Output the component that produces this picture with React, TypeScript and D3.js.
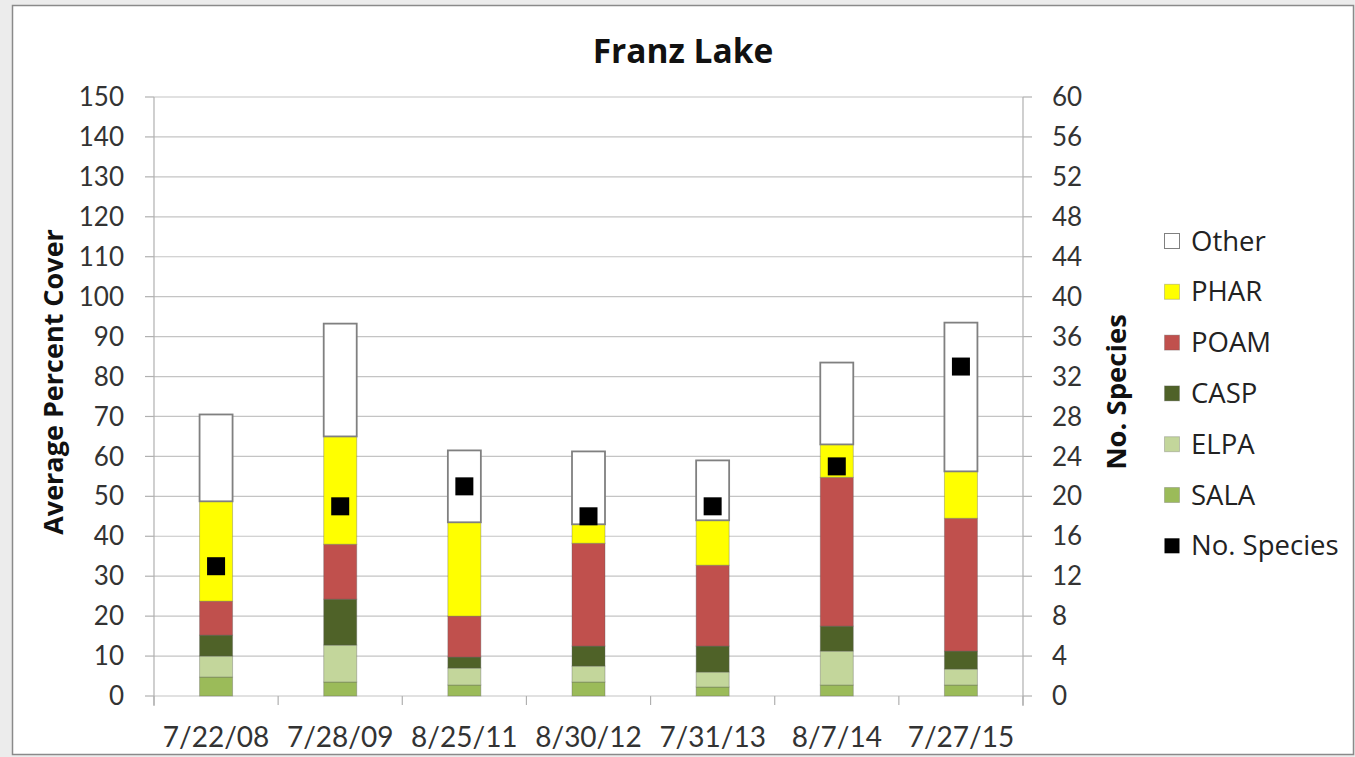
import React from "react";
import * as d3 from "d3";

const categories = ["7/22/08", "7/28/09", "8/25/11", "8/30/12", "7/31/13", "8/7/14", "7/27/15"];
const SALA = [4.75, 3.5, 2.75, 3.5, 2.25, 2.75, 2.75];
const ELPA = [5.25, 9.25, 4.25, 4, 3.75, 8.5, 4];
const CASP = [5.25, 11.5, 2.75, 5, 6.5, 6.25, 4.5];
const POAM = [8.5, 13.75, 10.25, 25.75, 20.25, 37.25, 33.25];
const PHAR = [25, 27, 23.5, 4.75, 11.25, 8.25, 11.75];
const Other = [21.75, 28.25, 18, 18.25, 15, 20.5, 37.25];
const noSpecies = [13, 19, 21, 18, 19, 23, 33];

const leftTicks = d3.range(0, 151, 10);
const rightTicks = d3.range(0, 61, 4);

const seriesKeys = ["SALA", "ELPA", "CASP", "POAM", "PHAR", "Other"];
const seriesData: Record<string, number[]> = { SALA, ELPA, CASP, POAM, PHAR, Other };
const colors: Record<string, string> = {
  SALA: "#9BBB59",
  ELPA: "#C3D69B",
  CASP: "#4F6228",
  POAM: "#C0504D",
  PHAR: "#FFFF00",
  Other: "#FFFFFF",
};
const legendOrder = ["Other", "PHAR", "POAM", "CASP", "ELPA", "SALA"];

const FONT = "'Open Sans', Lato, sans-serif";
const NUMFONT = "Lato, 'Open Sans', sans-serif";

export default function App() {
  const W = 1355, H = 757;
  const left = 154, right = 1023, top = 97, bottom = 696;
  const x = d3.scaleBand<string>().domain(categories).range([left, right]).padding(0);
  const y = d3.scaleLinear().domain([0, 150]).range([bottom, top]);
  const y2 = d3.scaleLinear().domain([0, 60]).range([bottom, top]);
  const barW = 33;

  const table = categories.map((c, i) => {
    const row: any = { cat: c };
    seriesKeys.forEach((k) => (row[k] = seriesData[k][i]));
    return row;
  });
  const stacked = d3.stack<any>().keys(seriesKeys)(table);

  const boundaries = categories.map((c) => x(c)!).concat([right]);

  return (
    <svg width={W} height={H} style={{ position: "absolute", left: 0, top: 0 }} fontFamily={FONT}>
      <rect x={0} y={0} width={W} height={H} fill="#ececec" />
      <rect x={12.5} y={5.5} width={1341} height={749} fill="#ffffff" stroke="#8a8a8a" strokeWidth={1.5} />
      <text x={683} y={63} textAnchor="middle" fontSize={33.5} fontWeight="bold" fill="#111">Franz Lake</text>

      {leftTicks.map((t) => (
        <line key={"g" + t} x1={left} x2={right} y1={y(t)} y2={y(t)} stroke="#c4c4c4" strokeWidth={1.2} />
      ))}
      <line x1={left} x2={left} y1={top} y2={bottom + 10} stroke="#b0b0b0" strokeWidth={1.2} />
      <line x1={right} x2={right} y1={top} y2={bottom + 10} stroke="#b0b0b0" strokeWidth={1.2} />
      {leftTicks.map((t) => (
        <g key={"l" + t}>
          <line x1={left - 9} x2={left} y1={y(t)} y2={y(t)} stroke="#b0b0b0" strokeWidth={1.2} />
          <text x={124} y={y(t)} dy="0.35em" textAnchor="end" fontSize={26} fontFamily={NUMFONT} fill="#333">{t}</text>
        </g>
      ))}
      {rightTicks.map((t) => (
        <g key={"r" + t}>
          <line x1={right} x2={right + 9} y1={y2(t)} y2={y2(t)} stroke="#b0b0b0" strokeWidth={1.2} />
          <text x={1052} y={y2(t)} dy="0.35em" textAnchor="start" fontSize={26} fontFamily={NUMFONT} fill="#333">{t}</text>
        </g>
      ))}
      {boundaries.map((b, i) => (
        <line key={"xb" + i} x1={b} x2={b} y1={bottom} y2={bottom + 9} stroke="#b0b0b0" strokeWidth={1.2} />
      ))}
      {categories.map((c) => (
        <text key={"xl" + c} x={x(c)! + x.bandwidth() / 2} y={747} textAnchor="middle" fontSize={28} fontFamily={NUMFONT} fill="#333">{c}</text>
      ))}

      {stacked.map((s) => (
        <g key={s.key}>
          {s.map((d, i) => (
            <rect
              key={i}
              x={x(categories[i])! + x.bandwidth() / 2 - barW / 2}
              y={y(d[1])}
              width={barW}
              height={y(d[0]) - y(d[1])}
              fill={colors[s.key]}
              stroke={s.key === "Other" ? "#808080" : "rgba(90,90,90,0.35)"}
              strokeWidth={s.key === "Other" ? 1.8 : 1}
            />
          ))}
        </g>
      ))}

      {noSpecies.map((v, i) => (
        <rect key={"m" + i} x={x(categories[i])! + x.bandwidth() / 2 - 9} y={y2(v) - 9} width={18} height={18} fill="#000" />
      ))}

      <text transform={`translate(63,382) rotate(-90)`} textAnchor="middle" fontSize={27} fontWeight="bold" fill="#111">Average Percent Cover</text>
      <text transform={`translate(1126,392) rotate(-90)`} textAnchor="middle" fontSize={27.5} fontWeight="bold" fill="#111">No. Species</text>

      {legendOrder.map((k, i) => {
        const cy = 241 + i * 50.8;
        return (
          <g key={"lg" + k}>
            <rect x={1164.5} y={cy - 7.5} width={15} height={15} fill={colors[k]} stroke={k === "Other" ? "#808080" : "rgba(90,90,90,0.3)"} strokeWidth={1} />
            <text x={1191} y={cy} dy="0.35em" fontSize={27.5} fill="#222">{k}</text>
          </g>
        );
      })}
      <rect x={1164.5} y={241 + 6 * 50.8 - 7.5} width={15} height={15} fill="#000" />
      <text x={1191} y={241 + 6 * 50.8} dy="0.35em" fontSize={27.5} fill="#222">No. Species</text>
    </svg>
  );
}
